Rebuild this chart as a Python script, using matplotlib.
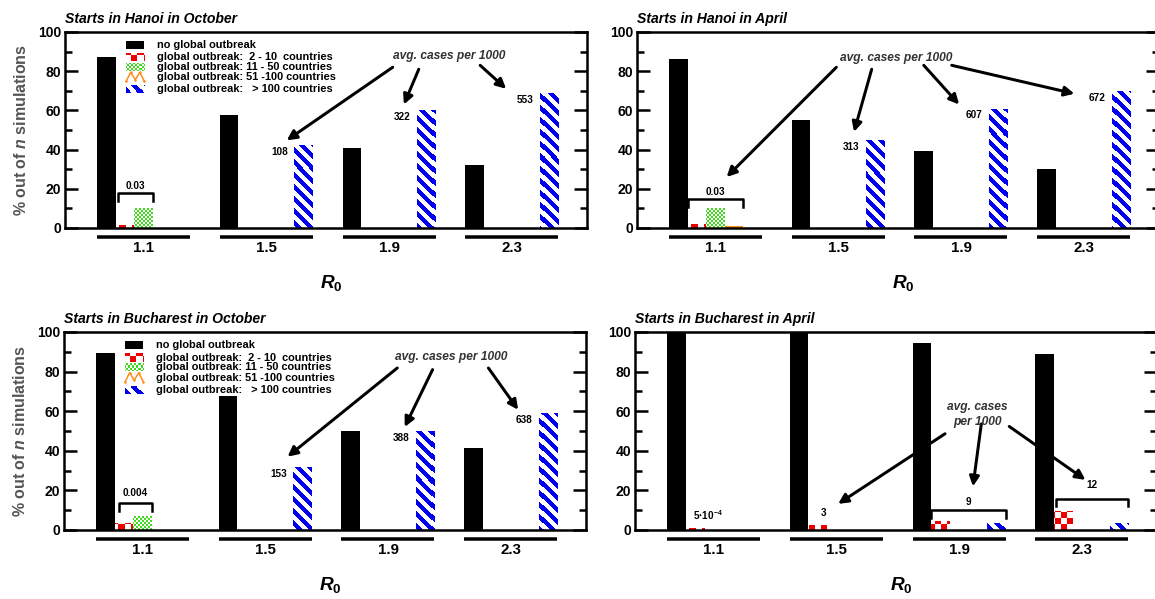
import numpy as np
import matplotlib
matplotlib.use('Agg')
import matplotlib.pyplot as plt
from matplotlib.colors import ListedColormap
from matplotlib.patches import Rectangle
from matplotlib.lines import Line2D

plt.rcParams['font.family'] = ['Liberation Sans', 'DejaVu Sans']
plt.rcParams['font.weight'] = 'bold'
plt.rcParams['mathtext.fontset'] = 'custom'
plt.rcParams['mathtext.rm'] = 'Liberation Sans:bold'
plt.rcParams['mathtext.it'] = 'Liberation Sans:italic:bold'
plt.rcParams['mathtext.bf'] = 'Liberation Sans:bold'

# данные
r0_labels = ['1.1', '1.5', '1.9', '2.3']
categories = ['no global outbreak',
              'global outbreak:  2 - 10  countries',
              'global outbreak: 11 - 50 countries',
              'global outbreak: 51 -100 countries',
              'global outbreak:   > 100 countries']

hanoi_oct_none = [87.4, 57.7, 40.8, 32.0]
hanoi_oct_2_10 = [1.5, 0, 0, 0]
hanoi_oct_11_50 = [10.2, 0, 0, 0]
hanoi_oct_51_100 = [0, 0, 0, 0]
hanoi_oct_100 = [0, 42.5, 60.2, 68.9]
hanoi_oct_cases = ['', '108', '322', '553']

hanoi_apr_none = [86.4, 55.3, 39.1, 30.3]
hanoi_apr_2_10 = [2.0, 0, 0, 0]
hanoi_apr_11_50 = [10.2, 0, 0, 0]
hanoi_apr_51_100 = [0.8, 0, 0, 0]
hanoi_apr_100 = [0, 45.0, 60.9, 69.7]
hanoi_apr_cases = ['', '313', '607', '672']

buch_oct_none = [89.4, 67.5, 50.0, 41.3]
buch_oct_2_10 = [3.5, 0, 0, 0]
buch_oct_11_50 = [7.0, 0, 0, 0]
buch_oct_51_100 = [0, 0, 0, 0]
buch_oct_100 = [0, 31.7, 50.0, 58.9]
buch_oct_cases = ['', '153', '388', '638']

buch_apr_none = [99.9, 99.5, 94.4, 89.0]
buch_apr_2_10 = [0.8, 2.5, 4.5, 9.5]
buch_apr_11_50 = [0, 0, 0, 0]
buch_apr_51_100 = [0, 0, 0, 0]
buch_apr_100 = [0, 0, 3.5, 3.5]
buch_apr_cases = ['', '', '', '']

# оформление
RED, GREEN, ORANGE, BLUE = '#ee0000', '#3fdc1e', '#ff8c1a', '#0000ee'
GROUP_STEP = 6.6
XLIM = (-1.72, 26.35)

panels = [
    dict(title='Starts in Hanoi in October', pos=[0.0563, 0.6194, 0.452, 0.3272],
         data=[hanoi_oct_none, hanoi_oct_2_10, hanoi_oct_11_50, hanoi_oct_51_100, hanoi_oct_100],
         cases=hanoi_oct_cases, legend=True, ylabel=True,
         brackets=[(0, 1.15, 3.0, 18, 14, '0.03', 21.5)], notes=[],
         avg=('avg. cases per 1000', 18.95, 87.7),
         arrows=[((15.9, 82), (10.2, 44.7)), ((17.3, 81), (16.5, 63)), ((20.6, 83), (22.0, 71))]),
    dict(title='Starts in Hanoi in April', pos=[0.5515, 0.6194, 0.452, 0.3272],
         data=[hanoi_apr_none, hanoi_apr_2_10, hanoi_apr_11_50, hanoi_apr_51_100, hanoi_apr_100],
         cases=hanoi_apr_cases, legend=False, ylabel=False,
         brackets=[(0, 1.0, 4.0, 15, 10.7, '0.03', 18.4)], notes=[],
         avg=('avg. cases per 1000', 12.2, 86.7),
         arrows=[((9.0, 82), (3.1, 26)), ((10.9, 81), (9.95, 49)),
                 ((13.7, 83), (15.6, 63)), ((15.2, 83), (21.8, 68.5))]),
    dict(title='Starts in Bucharest in October', pos=[0.0554, 0.1152, 0.452, 0.3306],
         data=[buch_oct_none, buch_oct_2_10, buch_oct_11_50, buch_oct_51_100, buch_oct_100],
         cases=buch_oct_cases, legend=True, ylabel=True,
         brackets=[(0, 1.25, 3.0, 13.5, 9.8, '0.004', 18.5)], notes=[],
         avg=('avg. cases per 1000', 19.1, 87.4),
         arrows=[((16.2, 81.8), (10.3, 37)), ((18.1, 81), (16.6, 52)), ((21.1, 81.8), (22.7, 60.7))]),
    dict(title='Starts in Bucharest in April', pos=[0.5498, 0.1152, 0.452, 0.3306],
         data=[buch_apr_none, buch_apr_2_10, buch_apr_11_50, buch_apr_51_100, buch_apr_100],
         cases=buch_apr_cases, legend=False, ylabel=False,
         brackets=[(2, 1.0, 5.0, 10, 6, '9', 14.3), (3, 1.1, 5.0, 15.5, 12, '12', 22.8)],
         notes=[(0, 2.2, 7.6, '5·10$^{-4}$'), (1, 1.8, 8.4, '3')],
         avg=('avg. cases\nper 1000', 16.7, 58.4),
         arrows=[((14.95, 48.6), (9.2, 13.2)), ((16.9, 53.6), (16.45, 22)), ((18.4, 52.3), (22.5, 25.3))]),
]


# узорная заливка (шахматка или косые полосы), обрезанная по прямоугольнику
def pattern_fill(ax, patch, color, kind, cell):
    bb = ax.get_window_extent()
    nx, ny = int(round(bb.width)), int(round(bb.height))
    jj, ii = np.meshgrid(np.arange(nx), np.arange(ny))
    if kind == 'checker':
        img = (ii // cell + jj // cell) % 2
    else:
        img = 1 - ((jj - ii) // cell) % 2
    im = ax.imshow(img, cmap=ListedColormap(['white', color]), vmin=0, vmax=1,
                   extent=(*ax.get_xlim(), *ax.get_ylim()), aspect='auto',
                   interpolation='nearest', zorder=patch.get_zorder() + 0.5)
    im.set_clip_path(patch)


def draw_legend(ax):
    rows_y = [0.934, 0.871, 0.823, 0.769, 0.708]
    hx, hw, hh, tx = 0.117, 0.035, 0.042, 0.176
    for i, (y, lab) in enumerate(zip(rows_y, categories)):
        if i == 3:
            xs = hx + hw * np.array([0, 0.25, 0.5, 0.75, 1.0])
            ys = y + hh * np.array([-0.5, 0.6, -0.3, 0.6, -0.5])
            ax.add_line(Line2D(xs, ys, transform=ax.transAxes, color=ORANGE, lw=1.5,
                               marker='.', ms=3))
        else:
            r = Rectangle((hx, y - hh / 2), hw, hh, transform=ax.transAxes,
                          facecolor='black' if i == 0 else 'white', lw=0)
            ax.add_patch(r)
            if i == 1:
                pattern_fill(ax, r, RED, 'checker', 6)
            elif i == 2:
                pattern_fill(ax, r, GREEN, 'checker', 2)
            elif i == 4:
                pattern_fill(ax, r, BLUE, 'stripes', 6)
        ax.text(tx, y, lab, transform=ax.transAxes, fontsize=11, va='center', ha='left')


fig = plt.figure(figsize=(1155 / 72, 599 / 72), dpi=72)

for p in panels:
    ax = fig.add_axes(p['pos'])
    ax.set_xlim(*XLIM)
    ax.set_ylim(0, 100)
    x0 = np.arange(len(r0_labels)) * GROUP_STEP
    none, c2, c11, c51, c100 = p['data']

    ax.bar(x0, none, width=1, align='edge', color='black', zorder=2)
    b1 = ax.bar(x0 + 1, c2, width=1, align='edge', facecolor='white', lw=0, zorder=2)
    for bar in b1:
        pattern_fill(ax, bar, RED, 'checker', 6)
    b2 = ax.bar(x0 + 2, c11, width=1, align='edge', facecolor='white', lw=0, zorder=2)
    for bar in b2:
        pattern_fill(ax, bar, GREEN, 'checker', 2)
    ax.bar(x0 + 3, c51, width=1, align='edge', color=ORANGE, zorder=2)
    b4 = ax.bar(x0 + 4, c100, width=1, align='edge', facecolor='white', lw=0, zorder=2)
    for bar in b4:
        pattern_fill(ax, bar, BLUE, 'stripes', 6)
    ax.set_xlim(*XLIM)
    ax.set_ylim(0, 100)

    # подписи у синих столбцов
    for g, lab in enumerate(p['cases']):
        if lab:
            ax.text(x0[g] + 4 - 0.35, c100[g] - 3.5, lab, fontsize=10, ha='right', va='center')

    # скобки
    for g, a, b, ytop, ydrop, lab, ly in p['brackets']:
        ax.plot([x0[g] + a, x0[g] + a, x0[g] + b, x0[g] + b], [ydrop, ytop, ytop, ydrop],
                color='black', lw=2.5, zorder=3)
        ax.text(x0[g] + (a + b) / 2, ly, lab, fontsize=10, ha='center', va='center')
    for g, off, y, lab in p['notes']:
        ax.text(x0[g] + off, y, lab, fontsize=10, ha='center', va='center')

    # стрелки от подписи
    txt, tx, ty = p['avg']
    ax.text(tx, ty, txt, fontsize=12, fontstyle='italic', fontweight='bold', color='#333333',
            ha='center', va='center', linespacing=1.3)
    for start, end in p['arrows']:
        ax.annotate('', xy=end, xytext=start,
                    arrowprops=dict(arrowstyle='-|>,head_length=0.8,head_width=0.4',
                                    lw=3, color='black', shrinkA=0, shrinkB=0), zorder=1)

    # оси
    for sp in ax.spines.values():
        sp.set_linewidth(2.5)
    ax.set_yticks(range(0, 101, 20))
    ax.set_yticks(range(10, 100, 20), minor=True)
    ax.tick_params(axis='y', which='both', direction='in', left=True, right=True,
                   width=2.5, labelsize=14, pad=4)
    ax.tick_params(axis='y', which='major', length=13)
    ax.tick_params(axis='y', which='minor', length=7)
    ax.set_xticks(x0 + 2.5)
    ax.set_xticklabels(r0_labels)
    ax.tick_params(axis='x', length=0, labelsize=15, pad=13)
    for g in x0:
        ax.plot([g, g + 5], [-0.046, -0.046], transform=ax.get_xaxis_transform(),
                color='black', lw=3.5, clip_on=False, solid_capstyle='butt')

    ax.set_title(p['title'], loc='left', fontsize=14, fontstyle='italic',
                 fontweight='bold', pad=9)
    ax.annotate('$R_{\\mathit{0}}$', xy=(0.5, 0), xycoords='axes fraction', xytext=(5, -55),
                textcoords='offset points', ha='center', va='center', fontsize=19)
    if p['ylabel']:
        ax.annotate('% out of $n$ simulations', xy=(0, 0.5), xycoords='axes fraction',
                    xytext=(-44, 0), textcoords='offset points', rotation=90,
                    ha='center', va='center', fontsize=16, color='#555555')
    if p['legend']:
        draw_legend(ax)

fig.savefig('out.png', dpi=72)
